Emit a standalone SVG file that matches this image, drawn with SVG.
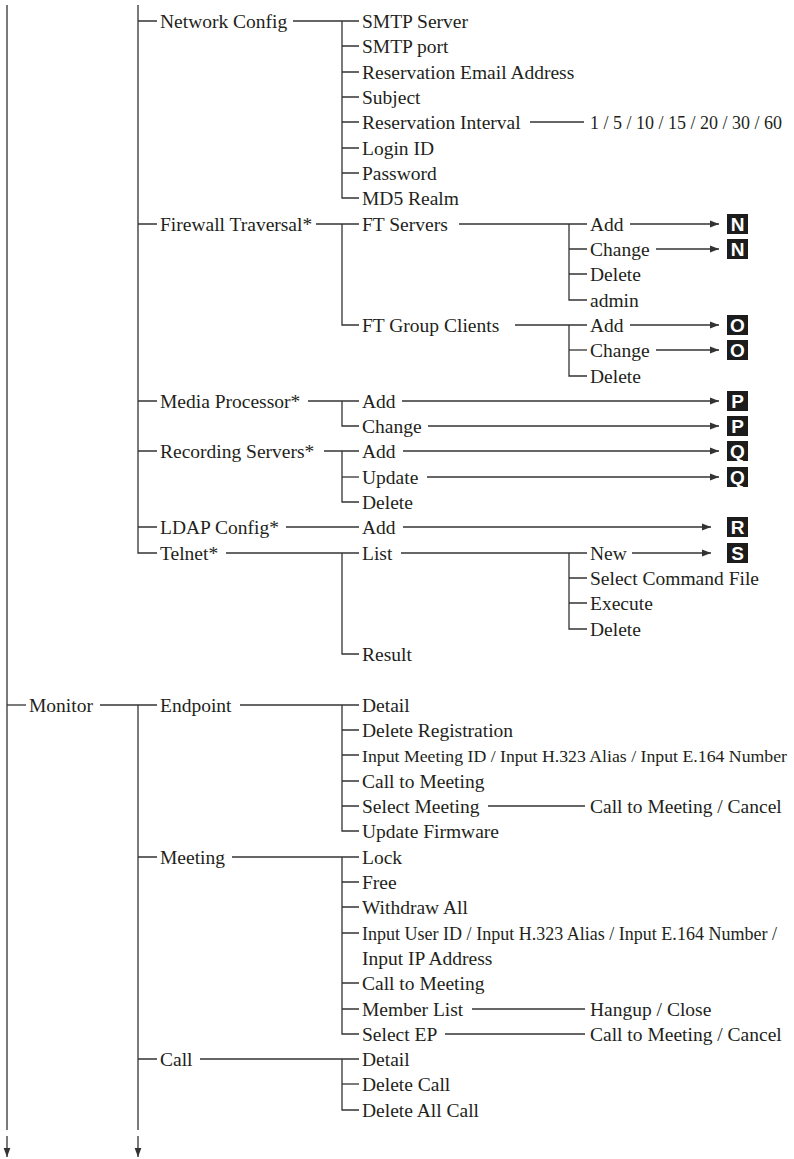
<svg xmlns="http://www.w3.org/2000/svg" width="794" height="1159" viewBox="0 0 794 1159">
  <style>
    text { font-family: "Liberation Serif", "Times New Roman", serif; font-size: 19.5px; fill: #231f20; }
    text.narrow { font-size: 17.5px; }
    text.mid { font-size: 18px; }
    text.vals { font-size: 18px; }
    .ln { fill: none; stroke: #333; stroke-width: 1.3; }
    .box { fill: #1c1c1c; }
    text.tag { font-family: "Liberation Sans", Arial, sans-serif; font-weight: bold; font-size: 19px; fill: #fff; text-anchor: middle; }
  </style>
  <defs>
    <marker id="ah" markerUnits="userSpaceOnUse" markerWidth="10" markerHeight="8" refX="9" refY="4" orient="auto">
      <path d="M0,0.6 L9,4 L0,7.4 Z" fill="#333"/>
    </marker>
  </defs>

  <!-- connectors -->
  <g id="connectors" class="ln">
    <!-- trunk -->
    <path d="M7,5 V1130"/>
    <path d="M7,705 H26"/>
    <!-- upper settings column -->
    <path d="M138,5 V553 H157"/>
    <path d="M138,21 H157 M138,224 H157 M138,401 H157 M138,451 H157 M138,527 H157"/>
    <!-- monitor column -->
    <path d="M100,705 H157"/>
    <path d="M138,705 V1130"/>
    <path d="M138,857 H157 M138,1059 H157"/>

    <!-- Network Config -->
    <path d="M293,21 H359"/>
    <path d="M342,21 V198 H359"/>
    <path d="M342,46 H359 M342,72 H359 M342,97 H359 M342,122 H359 M342,148 H359 M342,173 H359"/>
    <path d="M530,122 H584"/>

    <!-- Firewall Traversal -->
    <path d="M316,224 H359"/>
    <path d="M342,224 V325 H359"/>
    <path d="M459,224 H587"/>
    <path d="M569,224 V300 H587"/>
    <path d="M569,249 H587 M569,274 H587"/>
    <path d="M515,325 H587"/>
    <path d="M569,325 V376 H587"/>
    <path d="M569,350 H587"/>
    <path d="M630,224 H719" marker-end="url(#ah)"/>
    <path d="M656,249 H719" marker-end="url(#ah)"/>
    <path d="M630,325 H719" marker-end="url(#ah)"/>
    <path d="M656,350 H719" marker-end="url(#ah)"/>

    <!-- Media Processor -->
    <path d="M308,401 H359"/>
    <path d="M342,401 V426 H359"/>
    <path d="M402,401 H719" marker-end="url(#ah)"/>
    <path d="M428,426 H719" marker-end="url(#ah)"/>

    <!-- Recording Servers -->
    <path d="M324,451 H359"/>
    <path d="M342,451 V502 H359"/>
    <path d="M342,477 H359"/>
    <path d="M403,451 H719" marker-end="url(#ah)"/>
    <path d="M427,477 H719" marker-end="url(#ah)"/>

    <!-- LDAP Config -->
    <path d="M286,527 H359"/>
    <path d="M403,527 H711" marker-end="url(#ah)"/>

    <!-- Telnet -->
    <path d="M226,553 H359"/>
    <path d="M342,553 V654 H359"/>
    <path d="M401,553 H587"/>
    <path d="M569,553 V629 H587"/>
    <path d="M569,578 H587 M569,603 H587"/>
    <path d="M632,553 H711" marker-end="url(#ah)"/>

    <!-- Endpoint -->
    <path d="M240,705 H359"/>
    <path d="M342,705 V831 H359"/>
    <path d="M342,730 H359 M342,755 H359 M342,781 H359 M342,806 H359"/>
    <path d="M488,806 H585"/>

    <!-- Meeting -->
    <path d="M232,857 H359"/>
    <path d="M342,857 V1034 H359"/>
    <path d="M342,882 H359 M342,907 H359 M342,933 H359 M342,983 H359 M342,1009 H359"/>
    <path d="M472,1009 H585"/>
    <path d="M445,1034 H585"/>

    <!-- Call -->
    <path d="M200,1059 H359"/>
    <path d="M342,1059 V1110 H359"/>
    <path d="M342,1084 H359"/>

    <!-- continuation arrows -->
    <path d="M7,1136 V1157" marker-end="url(#ah)"/>
    <path d="M138,1136 V1157" marker-end="url(#ah)"/>
  </g>

  <!-- column 1 -->
  <g id="n-monitor"><text x="29" y="711.5">Monitor</text></g>

  <!-- column 2 -->
  <g id="n-network-config"><text x="160" y="27.5">Network Config</text></g>
  <g id="n-firewall"><text x="160" y="230.5">Firewall Traversal*</text></g>
  <g id="n-media"><text x="160" y="407.5">Media Processor*</text></g>
  <g id="n-recording"><text x="160" y="457.5">Recording Servers*</text></g>
  <g id="n-ldap"><text x="160" y="533.5">LDAP Config*</text></g>
  <g id="n-telnet"><text x="160" y="559.5">Telnet*</text></g>
  <g id="n-endpoint"><text x="160" y="711.5">Endpoint</text></g>
  <g id="n-meeting"><text x="160" y="863.5">Meeting</text></g>
  <g id="n-call"><text x="160" y="1065.5">Call</text></g>

  <!-- Network Config items -->
  <g id="n-smtp-server"><text x="362" y="27.5">SMTP Server</text></g>
  <g id="n-smtp-port"><text x="362" y="52.5">SMTP port</text></g>
  <g id="n-res-email"><text x="362" y="78.5">Reservation Email Address</text></g>
  <g id="n-subject"><text x="362" y="103.5">Subject</text></g>
  <g id="n-res-interval"><text x="362" y="128.5">Reservation Interval</text></g>
  <g id="n-interval-values"><text class="vals" x="590" y="128.5" textLength="192" lengthAdjust="spacingAndGlyphs">1 / 5 / 10 / 15 / 20 / 30 / 60</text></g>
  <g id="n-login"><text x="362" y="154.5">Login ID</text></g>
  <g id="n-password"><text x="362" y="179.5">Password</text></g>
  <g id="n-md5"><text x="362" y="204.5">MD5 Realm</text></g>

  <!-- Firewall Traversal items -->
  <g id="n-ft-servers"><text x="362" y="230.5">FT Servers</text></g>
  <g id="n-fts-add"><text x="590" y="230.5">Add</text></g>
  <g id="n-fts-change"><text x="590" y="255.5">Change</text></g>
  <g id="n-fts-delete"><text x="590" y="280.5">Delete</text></g>
  <g id="n-fts-admin"><text x="590" y="306.5">admin</text></g>
  <g id="n-ft-group"><text x="362" y="331.5">FT Group Clients</text></g>
  <g id="n-ftg-add"><text x="590" y="331.5">Add</text></g>
  <g id="n-ftg-change"><text x="590" y="356.5">Change</text></g>
  <g id="n-ftg-delete"><text x="590" y="382.5">Delete</text></g>

  <!-- Media Processor items -->
  <g id="n-mp-add"><text x="362" y="407.5">Add</text></g>
  <g id="n-mp-change"><text x="362" y="432.5">Change</text></g>

  <!-- Recording Servers items -->
  <g id="n-rs-add"><text x="362" y="457.5">Add</text></g>
  <g id="n-rs-update"><text x="362" y="483.5">Update</text></g>
  <g id="n-rs-delete"><text x="362" y="508.5">Delete</text></g>

  <!-- LDAP item -->
  <g id="n-ldap-add"><text x="362" y="533.5">Add</text></g>

  <!-- Telnet items -->
  <g id="n-tn-list"><text x="362" y="559.5">List</text></g>
  <g id="n-tn-new"><text x="590" y="559.5">New</text></g>
  <g id="n-tn-select"><text x="590" y="584.5">Select Command File</text></g>
  <g id="n-tn-execute"><text x="590" y="609.5">Execute</text></g>
  <g id="n-tn-delete"><text x="590" y="635.5">Delete</text></g>
  <g id="n-tn-result"><text x="362" y="660.5">Result</text></g>

  <!-- Endpoint items -->
  <g id="n-ep-detail"><text x="362" y="711.5">Detail</text></g>
  <g id="n-ep-delreg"><text x="362" y="736.5">Delete Registration</text></g>
  <g id="n-ep-input"><text class="narrow" x="362" y="761.5" textLength="425" lengthAdjust="spacingAndGlyphs">Input Meeting ID / Input H.323 Alias / Input E.164 Number</text></g>
  <g id="n-ep-call"><text x="362" y="787.5">Call to Meeting</text></g>
  <g id="n-ep-select"><text x="362" y="812.5">Select Meeting</text></g>
  <g id="n-ep-select-act"><text x="590" y="812.5">Call to Meeting / Cancel</text></g>
  <g id="n-ep-firmware"><text x="362" y="837.5">Update Firmware</text></g>

  <!-- Meeting items -->
  <g id="n-mt-lock"><text x="362" y="863.5">Lock</text></g>
  <g id="n-mt-free"><text x="362" y="888.5">Free</text></g>
  <g id="n-mt-withdraw"><text x="362" y="913.5">Withdraw All</text></g>
  <g id="n-mt-input">
    <text class="mid" x="362" y="939.5" textLength="415" lengthAdjust="spacingAndGlyphs">Input User ID / Input H.323 Alias / Input E.164 Number /</text>
    <text x="362" y="964.5">Input IP Address</text>
  </g>
  <g id="n-mt-call"><text x="362" y="989.5">Call to Meeting</text></g>
  <g id="n-mt-members"><text x="362" y="1015.5">Member List</text></g>
  <g id="n-mt-members-act"><text x="590" y="1015.5">Hangup / Close</text></g>
  <g id="n-mt-select"><text x="362" y="1040.5">Select EP</text></g>
  <g id="n-mt-select-act"><text x="590" y="1040.5">Call to Meeting / Cancel</text></g>

  <!-- Call items -->
  <g id="n-call-detail"><text x="362" y="1065.5">Detail</text></g>
  <g id="n-call-delete"><text x="362" y="1090.5">Delete Call</text></g>
  <g id="n-call-delete-all"><text x="362" y="1116.5">Delete All Call</text></g>

  <!-- reference tags -->
  <g id="tag-n1"><rect class="box" x="727" y="214" width="21" height="20"/><text class="tag" x="737.5" y="231">N</text></g>
  <g id="tag-n2"><rect class="box" x="727" y="239" width="21" height="20"/><text class="tag" x="737.5" y="256">N</text></g>
  <g id="tag-o1"><rect class="box" x="727" y="315" width="21" height="20"/><text class="tag" x="737.5" y="332">O</text></g>
  <g id="tag-o2"><rect class="box" x="727" y="340" width="21" height="20"/><text class="tag" x="737.5" y="357">O</text></g>
  <g id="tag-p1"><rect class="box" x="727" y="391" width="21" height="20"/><text class="tag" x="737.5" y="408">P</text></g>
  <g id="tag-p2"><rect class="box" x="727" y="416" width="21" height="20"/><text class="tag" x="737.5" y="433">P</text></g>
  <g id="tag-q1"><rect class="box" x="727" y="441" width="21" height="20"/><text class="tag" x="737.5" y="458">Q</text></g>
  <g id="tag-q2"><rect class="box" x="727" y="467" width="21" height="20"/><text class="tag" x="737.5" y="484">Q</text></g>
  <g id="tag-r"><rect class="box" x="727" y="517" width="21" height="20"/><text class="tag" x="737.5" y="534">R</text></g>
  <g id="tag-s"><rect class="box" x="727" y="543" width="21" height="20"/><text class="tag" x="737.5" y="560">S</text></g>
</svg>
